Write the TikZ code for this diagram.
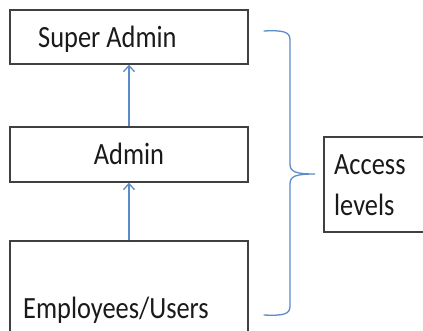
\documentclass[tikz,border=0pt]{standalone}
\usepackage{fontspec}
\setmainfont{Carlito}
\usetikzlibrary{arrows.meta}
\definecolor{boxline}{HTML}{404040}
\definecolor{levelblue}{HTML}{5B8BC9}
\definecolor{labeltext}{HTML}{1A1A1A}
% labels are set slightly taller than wide
\newcommand{\lvltext}[1]{\scalebox{1}[1.17]{\fontsize{26.4}{30}\selectfont #1}}

\begin{document}
\begin{tikzpicture}[x=1pt,y=-1pt,
  levelbox/.style={draw=boxline, line width=1.4pt, inner sep=0pt},
  lvllabel/.style={inner sep=0pt, text=labeltext},
  uplink/.style={draw=levelblue, line width=1.3pt,
    -{Straight Barb[length=6pt,width=11pt]}},
  bracket/.style={draw=levelblue, line width=1.3pt, line cap=round}]
\useasboundingbox (0,0) rectangle (423,331);
\clip (0,0) rectangle (423,331);

% the three levels
\node[levelbox, minimum width=238pt, minimum height=54pt] (super) at (129,37) {};
\node[levelbox, minimum width=238pt, minimum height=55pt] (admin) at (129,154.5) {};
\node[levelbox, minimum width=238pt, minimum height=110pt] (users) at (129,296) {};
\node[levelbox, minimum width=110pt, minimum height=95pt] (access) at (379,184.5) {};

\node[lvllabel, anchor=base west] (superT) at (38,48) {\lvltext{Super Admin}};
\node[lvllabel, anchor=base] (adminT) at (129,165) {\lvltext{Admin}};
\node[lvllabel, anchor=base west] (usersT) at (23,318) {\lvltext{Employees/Users}};
\node[lvllabel, anchor=base west] (accessT) at (334,175) {\lvltext{Access}};
\node[lvllabel, anchor=base west] (levelsT) at (334,215) {\lvltext{levels}};

% upward links
\draw[uplink] (admin.north) -- (super.south);
\draw[uplink] (users.north) -- (admin.south);

% curly bracket spanning all levels
\draw[bracket] (264,31) .. controls (284,30) and (290,32) .. (290,40)
  -- (290,164) .. controls (290,172) and (296,174) .. (315,174)
  .. controls (296,174) and (290,176) .. (290,184)
  -- (290,306) .. controls (290,314) and (284,316) .. (264,315);
\end{tikzpicture}
\end{document}
